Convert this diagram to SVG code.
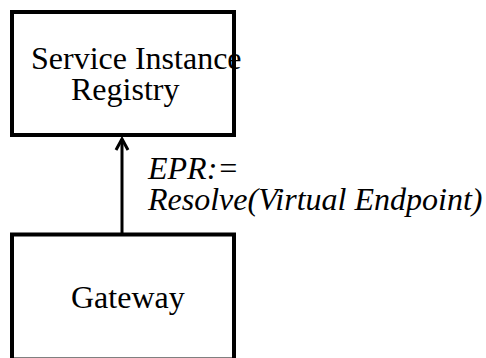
<svg xmlns="http://www.w3.org/2000/svg" width="486" height="358" viewBox="0 0 486 358">
<style>
.box{fill:#fff;stroke:#000;stroke-width:4}
.t{font-family:"Liberation Serif","Times New Roman",serif;font-size:32px;fill:#000}
.i{font-style:italic}
.c{stroke:#000;stroke-width:3;fill:none}
</style>
<rect width="486" height="358" fill="#fff"/>
<g id="registry">
<rect class="box" x="12" y="12" width="222" height="123"/>
<text class="t" x="31" y="69">Service Instance</text>
<text class="t" x="71" y="100">Registry</text>
</g>
<g id="gateway">
<rect class="box" x="12" y="234.5" width="222" height="125"/>
<text class="t" x="71" y="308">Gateway</text>
</g>
<g id="connectors">
<line class="c" x1="122" y1="233" x2="122" y2="139"/>
<polyline class="c" points="116,150 122,139 128,150" stroke-linejoin="miter"/>
<text class="t i" x="148" y="179">EPR:=</text>
<text class="t i" x="148" y="210">Resolve(Virtual Endpoint)</text>
</g>
</svg>
